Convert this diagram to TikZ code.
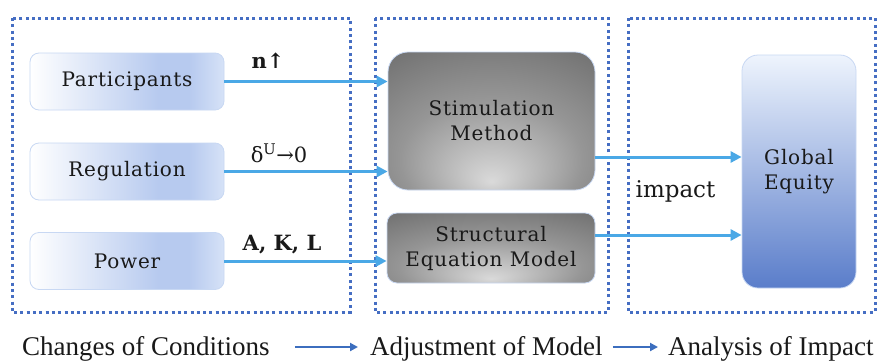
\documentclass[tikz,border=0pt]{standalone}
\usepackage{fontspec}
\setmainfont{DejaVu Serif}
\newfontfamily\lblfont[LetterSpace=4]{DejaVu Serif}
\newfontfamily\btmfont{Liberation Serif}
\usetikzlibrary{arrows.meta}
\definecolor{dotblue}{RGB}{70,110,195}
\definecolor{flowblue}{RGB}{74,168,230}
\definecolor{boxblue}{RGB}{183,202,239}
\definecolor{boxlight}{RGB}{214,226,247}
\definecolor{boxedge}{RGB}{200,216,243}
\definecolor{gLight}{RGB}{218,218,218}
\definecolor{gMid}{RGB}{150,150,150}
\definecolor{gDark}{RGB}{104,104,104}
\definecolor{geTop}{RGB}{238,244,253}
\definecolor{geBot}{RGB}{90,125,202}
\definecolor{btmblue}{RGB}{60,110,190}
\pgfdeclarehorizontalshading{leftbox}{100bp}{color(0bp)=(white); color(25bp)=(white); color(58bp)=(boxblue); color(66bp)=(boxblue); color(75bp)=(boxlight); color(100bp)=(boxlight)}
\pgfdeclareradialshading{stimshade}{\pgfpoint{0bp}{-22bp}}{color(0bp)=(gLight); color(22bp)=(gMid); color(45bp)=(gDark); color(60bp)=(gDark)}
\tikzset{
  dotbox/.style={draw=dotblue, line width=3pt, dash pattern=on 3pt off 3.3pt},
  lbox/.style={draw=boxedge, line width=0.8pt, rounded corners=9pt, shading=leftbox,
    minimum width=194pt, minimum height=57pt, inner sep=0pt,
    font=\lblfont\fontsize{20}{22}\selectfont, text=black!90},
  gbox/.style={draw=boxedge, line width=0.8pt, shading=stimshade, inner sep=0pt,
    align=center, font=\lblfont\fontsize{20}{25}\selectfont, text=black!90},
  gebox/.style={draw=boxedge, line width=0.8pt, rounded corners=16pt, top color=geTop, bottom color=geBot,
    minimum width=114pt, minimum height=233pt, inner sep=0pt, align=center,
    font=\lblfont\fontsize{20}{25}\selectfont, text=black!90},
  flow/.style={draw=flowblue, line width=3pt, -{Triangle[length=11pt,width=11pt]}},
  flowlbl/.style={inner sep=0pt, font=\fontsize{21}{23}\selectfont, text=black!90},
  btm/.style={inner sep=0pt, font=\btmfont\fontsize{27}{29}\selectfont, text=black!90},
  barrow/.style={draw=btmblue, line width=2pt, -{Triangle[length=8pt,width=8pt]}},
}
\begin{document}
\begin{tikzpicture}[x=1pt,y=-1pt]
\useasboundingbox[fill=white] (0,0) rectangle (877,362);
% group frames
\draw[dotbox] (12,18) rectangle (350,312);
\draw[dotbox] (375,18) rectangle (608,312);
\draw[dotbox] (628,18) rectangle (875,312);
% left boxes
\node[lbox] (part) at (127,81.5) {Participants};
\node[lbox] (reg) at (127,171.5) {Regulation};
\node[lbox] (pow) at (127,261) {Power};
% middle boxes
\node[gbox, rounded corners=20pt, minimum width=207pt, minimum height=138pt] (stim) at (491.5,121) {Stimulation\\Method};
\node[gbox, rounded corners=10pt, minimum width=208pt, minimum height=70pt] (sem) at (491,248) {Structural\\Equation Model};
% right box
\node[gebox] (ge) at (799,171.5) {Global\\Equity};
% connectors
\draw[flow] (part.east) -- (part.east -| stim.west);
\draw[flow] (reg.east) -- (reg.east -| stim.west);
\draw[flow] (pow.east) -- (pow.east -| sem.west);
\draw[flow] ([yshift=-36pt]stim.east) coordinate (s1) -- (s1 -| ge.west);
\draw[flow] ([yshift=13pt]sem.east) coordinate (s2) -- (s2 -| ge.west);
% labels
\node[flowlbl, anchor=base] (l1) at (268,68) {\bfseries n↑};
\node[flowlbl, anchor=base] (l2) at (279,162) {δ\textsuperscript{U}→0};
\node[flowlbl, anchor=base] (l3) at (282,250) {\bfseries A, K, L};
\node[inner sep=0pt, anchor=base, font=\fontsize{23}{25}\selectfont, text=black!90] (imp) at (675.5,197) {impact};
% bottom legend
\node[btm, anchor=base west] (c1) at (22,355) {Changes of Conditions};
\node[btm, anchor=base west] (c2) at (370,355) {Adjustment of Model};
\node[btm, anchor=base west] (c3) at (668,355) {Analysis of Impact};
\draw[barrow] ([xshift=25pt,yshift=8pt]c1.base east) -- ([xshift=-12pt,yshift=8pt]c2.base west);
\draw[barrow] ([xshift=10pt,yshift=8pt]c2.base east) -- ([xshift=-10pt,yshift=8pt]c3.base west);
\end{tikzpicture}
\end{document}
